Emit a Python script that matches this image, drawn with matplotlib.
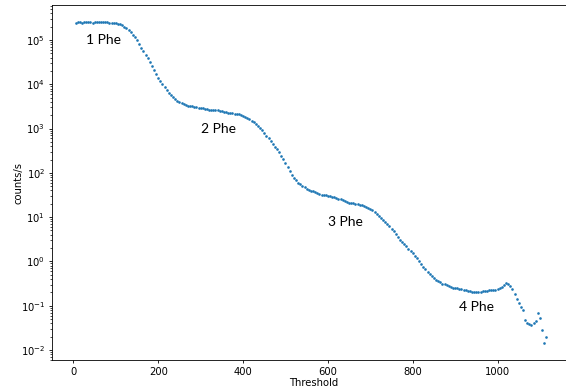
import numpy as np
import matplotlib
matplotlib.use('Agg')
from matplotlib import pyplot as plt

# threshold scan, 5 units per step
threshold = np.arange(5, 1120, 5)

# log10(counts/s)
log_rate = [
    5.39, 5.40, 5.40, 5.39, 5.40, 5.41, 5.40, 5.40, 5.39, 5.40, 5.40, 5.40, 5.41, 5.40, 5.40, 5.40, 5.39, 5.39, 5.39,
    5.39, 5.37, 5.35, 5.33, 5.30, 5.27, 5.23, 5.18, 5.12, 5.06, 4.99, 4.91, 4.83, 4.75, 4.67, 4.59, 4.51, 4.42, 4.33, 4.24,
    4.15, 4.07, 4.00, 3.93, 3.87, 3.81, 3.75, 3.71, 3.67, 3.63, 3.59, 3.57, 3.55, 3.53, 3.52, 3.51, 3.50, 3.49, 3.48, 3.47,
    3.46, 3.46, 3.45, 3.44, 3.43, 3.43, 3.42, 3.42, 3.41, 3.40, 3.39, 3.38, 3.37, 3.36, 3.35, 3.35, 3.34, 3.33, 3.32, 3.30,
    3.28, 3.26, 3.24, 3.21, 3.18, 3.14, 3.10, 3.06, 3.01, 2.96, 2.90, 2.84, 2.78, 2.72, 2.65, 2.59, 2.53, 2.46, 2.39, 2.31,
    2.23, 2.14, 2.05, 1.96, 1.89, 1.83, 1.78, 1.74, 1.70, 1.67, 1.64, 1.62, 1.60, 1.58, 1.56, 1.54, 1.52, 1.51, 1.50, 1.49,
    1.48, 1.47, 1.46, 1.45, 1.43, 1.42, 1.40, 1.38, 1.36, 1.34, 1.33, 1.32, 1.31, 1.30, 1.29, 1.28, 1.27, 1.25, 1.23, 1.21,
    1.18, 1.15, 1.11, 1.07, 1.03, 0.98, 0.94, 0.90, 0.85, 0.80, 0.74, 0.69, 0.62, 0.55, 0.49, 0.44, 0.39, 0.34, 0.29, 0.24,
    0.19, 0.13, 0.07, 0.01, -0.05, -0.12, -0.18, -0.24, -0.29, -0.33, -0.37, -0.41, -0.44, -0.47, -0.50, -0.52, -0.54, -0.56, -0.58, -0.59,
    -0.60, -0.61, -0.62, -0.63, -0.64, -0.65, -0.66, -0.67, -0.68, -0.68, -0.68, -0.69, -0.68, -0.67, -0.67, -0.66, -0.65, -0.65, -0.64, -0.64,
    -0.63, -0.61, -0.57, -0.53, -0.49, -0.50, -0.55, -0.63, -0.74, -0.84, -0.94, -1.02, -1.10, -1.33, -1.38, -1.41, -1.43, -1.40, -1.34, -1.16,
    -1.28, -1.55, -1.84, -1.70,
]
rate = 10 ** np.array(log_rate)

peak_labels = ['1 Phe', '2 Phe', '3 Phe', '4 Phe']
peak_x = [71, 342, 642, 950]
peak_y = [1.0e5, 1.0e3, 7.8, 0.093]

fig = plt.figure(figsize=(5.66, 3.88), dpi=100)
# right spine falls just outside the picture, as in the original crop
ax = fig.add_axes([52 / 566, 28 / 388, 524 / 566, 355 / 388])

ax.plot(threshold, rate, 'o', ms=1.9, mew=0, color='#1f77b4')
ax.set_yscale('log')
ax.set_xlim(-50.5, 1185)
ax.set_ylim(10 ** (-2 - 10 / 44.3), 10 ** (5 + 35 / 44.3))

ax.set_xlabel('Threshold', fontsize=7.2, labelpad=1)
ax.set_ylabel('counts/s', fontsize=7.2, labelpad=-2)
ax.tick_params(which='major', labelsize=7.2, length=2.5, width=0.6, pad=2.5)
ax.tick_params(which='minor', length=1.4, width=0.5)
for s in ax.spines.values():
    s.set_linewidth(0.6)

for lab, px, py in zip(peak_labels, peak_x, peak_y):
    ax.text(px, py, lab, fontsize=10, family='Lato', ha='center', va='center')

fig.savefig('out.png', dpi=100)
